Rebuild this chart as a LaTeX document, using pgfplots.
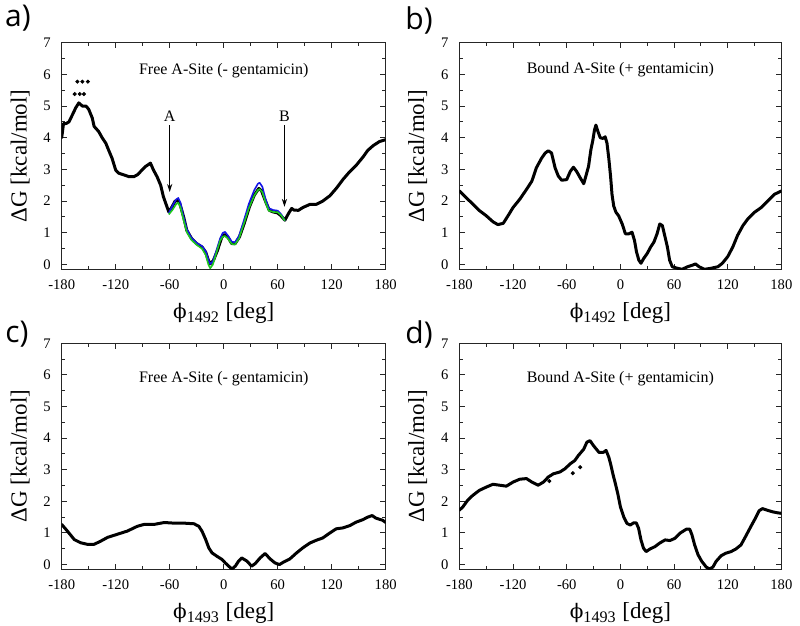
\documentclass[border=0pt]{standalone}
\usepackage{fontspec}
\setmainfont{Liberation Serif}
\newfontfamily\panelfont{Open Sans}
\newfontfamily\phifont{DejaVu Serif}
\newcommand{\myphi}{{\phifont\fontsize{10}{12}\selectfont ϕ}}
\usepackage{pgfplots}
\pgfplotsset{compat=1.18}
\usetikzlibrary{arrows.meta}
\definecolor{cblue}{RGB}{20,20,230}
\definecolor{cgreen}{RGB}{30,200,30}
\pgfplotsset{
 panel/.style={
  scale only axis, anchor=south west,
  xmin=-180,xmax=180,ymin=-0.15,ymax=7,
  xtick={-180,-120,-60,0,60,120,180},
  ytick={0,1,2,3,4,5,6,7},
  minor x tick num=1, minor y tick num=1,
  tick align=inside, major tick length=2.6pt, minor tick length=1.6pt,
  axis line style={line width=0.6pt,black!85},
  every tick/.append style={black!85,line width=0.5pt},
  tick label style={font=\fontsize{7.3}{8}\selectfont},
  /pgf/number format/assume math mode=true,
  /pgf/number format/1000 sep={},
  xticklabel style={yshift=-1.5pt},
  yticklabel style={xshift=-2pt},
  ylabel={ΔG [kcal/mol]},
  label style={font=\fontsize{11.5}{13}\selectfont},
 },
 curve/.style={black, line width=1.5pt, mark=none, line join=round, line cap=round},
 dots/.style={black, only marks, mark=*, mark size=0.8pt},
}
\begin{document}
\begin{tikzpicture}
\path[use as bounding box] (0,0) rectangle (400pt,313pt);
\node[font=\panelfont\fontsize{15}{16}\selectfont] at (9pt,304pt) {a)};
\node[font=\panelfont\fontsize{15}{16}\selectfont] at (209.5pt,303pt) {b)};
\node[font=\panelfont\fontsize{15}{16}\selectfont] at (8.5pt,146pt) {c)};
\node[font=\panelfont\fontsize{15}{16}\selectfont] at (209.5pt,146pt) {d)};

% ---------- a ----------
\begin{axis}[panel, at={(30.85pt,178.35pt)}, width=162pt, height=113.3pt,
  xlabel={\myphi\textsubscript{1492} [deg]}]
\addplot[curve] coordinates {
(-180,4.0) (-178,4.45) (-175,4.45) (-172,4.5) (-168,4.73) (-164.5,4.94) (-161,5.1)
(-157,5.0) (-153,5.0) (-150,4.9) (-146,4.62) (-144,4.36) (-139,4.2) (-135,4.0)
(-131,3.83) (-128,3.62) (-124,3.35) (-120,2.98) (-116.5,2.88) (-111,2.83) (-105,2.77)
(-100,2.77) (-96,2.83) (-92.5,2.93) (-87,3.09) (-81.4,3.2) (-78,2.98) (-74,2.77)
(-70,2.5) (-67,2.14) (-63,1.82) (-61,1.66) (-57.4,1.82) (-54,2.0) (-51,2.02)
(-48.5,1.9) (-44.5,1.5) (-41,1.08) (-35.5,0.81) (-30,0.66) (-24,0.55) (-20,0.39)
(-17,0.13) (-15,0.02) (-11.4,0.13) (-7,0.44) (-2,0.87) (1,0.95) (4.6,0.87)
(9,0.66) (12.7,0.66) (17.5,0.87) (22.7,1.29) (28.6,1.82) (34,2.19) (39,2.4)
(42,2.33) (46,2.03) (50.7,1.71) (55,1.66) (59.6,1.63) (63,1.56) (68,1.4)
(72,1.61) (75.5,1.77) (78,1.72) (83,1.71) (88,1.8) (96,1.9) (103,1.9) (110,2.0)
(118,2.17) (125,2.4) (133,2.7) (140,2.93) (147.5,3.14) (155,3.4) (160,3.6)
(166,3.75) (173,3.88) (180,3.94)
};
\addplot[dots] coordinates {
(-165.6,5.38) (-160,5.38) (-155.3,5.38) (-162.6,5.77) (-157,5.77) (-150.9,5.77)
};
\addplot[cblue, line width=0.8pt, line join=round] coordinates {
(-61,1.62) (-57,1.85) (-53,2.05) (-50.5,2.1) (-48,1.95) (-45,1.55) (-41,1.12)
(-36,0.85) (-30,0.68) (-24,0.58) (-20,0.42) (-17,0.15) (-15,0.02) (-12,0.1)
(-8,0.45) (-4,0.82) (-1,1.0) (1.5,1.03) (4.5,0.92) (9,0.72) (12.5,0.7) (17,0.9)
(22,1.35) (28,1.92) (34,2.35) (38,2.55) (40,2.58) (43,2.45) (46,2.12) (50,1.78)
(55,1.72) (60,1.7) (64,1.58) (68,1.38)
};
\addplot[cgreen, line width=0.8pt, line join=round] coordinates {
(-61,1.58) (-57,1.72) (-53,1.9) (-50.5,1.95) (-48,1.8) (-45,1.45) (-41,1.02)
(-36,0.78) (-30,0.62) (-24,0.5) (-20,0.3) (-17,0.0) (-15,-0.12) (-12,0.0)
(-8,0.38) (-4,0.75) (-1,0.88) (1.5,0.9) (4.5,0.82) (9,0.65) (12.5,0.63) (17,0.82)
(22,1.25) (28,1.78) (34,2.18) (38,2.35) (40,2.38) (43,2.28) (46,2.0) (50,1.7)
(55,1.66) (60,1.65) (64,1.55) (68,1.38)
};
\node[font=\fontsize{8}{9}\selectfont] at (rel axis cs:0.5,0.876) {Free A-Site (- gentamicin)};
\node[font=\fontsize{8}{9}\selectfont] at (axis cs:-60,4.68) {A};
\node[font=\fontsize{8}{9}\selectfont] at (axis cs:67.5,4.68) {B};
\draw[-{Stealth[length=4pt,width=2.6pt]}, line width=0.5pt] (axis cs:-60,4.40) -- (axis cs:-60,2.29);
\draw[-{Stealth[length=4pt,width=2.6pt]}, line width=0.5pt] (axis cs:67.5,4.40) -- (axis cs:67.5,1.82);
\end{axis}

% ---------- b ----------
\begin{axis}[panel, at={(229.7pt,178.35pt)}, width=161pt, height=113.3pt,
  xlabel={\myphi\textsubscript{1492} [deg]}]
\addplot[curve] coordinates {
(-180,2.32) (-172.5,2.11) (-165,1.91) (-157.5,1.70) (-150,1.54) (-142.5,1.35)
(-137,1.26) (-131,1.30) (-125.6,1.54) (-120,1.80) (-112.5,2.06) (-105,2.37)
(-99,2.63) (-94,3.05) (-88,3.36) (-84,3.52) (-80.6,3.59) (-77,3.52) (-73,3.05)
(-69.4,2.79) (-65.6,2.66) (-60,2.68) (-56,2.94) (-52.5,3.07) (-49,2.94) (-45,2.74)
(-41,2.55) (-38.6,2.79) (-35.6,3.10) (-33,3.62) (-30.75,3.93) (-29,4.24)
(-27.4,4.40) (-25,4.19) (-22.5,4.00) (-19.5,3.98) (-17,4.03) (-15,3.83) (-13,3.36)
(-11,2.79) (-9.4,2.22) (-7.5,1.85) (-5,1.65) (-2,1.54) (2,1.28) (5.6,0.97)
(9.4,0.97) (13,1.02) (15.75,0.76) (18,0.40) (20.6,0.14) (23,0.04) (26,0.19)
(30,0.35) (34,0.56) (37.5,0.71) (41,0.97) (44,1.28) (46.9,1.23) (49.5,0.92)
(52.5,0.56) (55,0.14) (58,-0.07) (64,-0.12) (69,-0.15) (75,-0.07) (80.6,-0.02)
(84,0.02) (88,-0.07) (94,-0.15) (101,-0.12) (109,-0.07) (114,0.04) (120,0.25)
(125.6,0.55) (131,0.92) (137,1.23) (142.5,1.44) (150,1.65) (157.5,1.80)
(165,2.01) (172.5,2.22) (180,2.32)
};
\node[font=\fontsize{8}{9}\selectfont] at (rel axis cs:0.5,0.879) {Bound A-Site (+ gentamicin)};
\end{axis}

% ---------- c ----------
\begin{axis}[panel, at={(30.85pt,28.35pt)}, width=162pt, height=113pt,
  xlabel={\myphi\textsubscript{1493} [deg]}]
\addplot[curve] coordinates {
(-180,1.27) (-173.7,1.06) (-166,0.79) (-159,0.69) (-151.5,0.64) (-144,0.64)
(-136.7,0.74) (-129,0.86) (-118,0.96) (-107,1.06) (-96,1.21) (-88.5,1.27)
(-77.4,1.27) (-66,1.33) (-55,1.31) (-44,1.31) (-33,1.29) (-27.6,1.21) (-24,1.05)
(-20,0.79) (-16.6,0.53) (-13,0.37) (-7.4,0.26) (-1.8,0.16) (1.8,0.05) (5.5,-0.05)
(9.2,-0.14) (12.9,-0.05) (16.6,0.11) (20,0.21) (25.8,0.11) (31,-0.05) (35,0.03)
(40.5,0.21) (46,0.35) (51.5,0.18) (57,0.05) (62,0.0) (66,0.07) (73.6,0.18)
(81,0.37) (88,0.53) (95.7,0.68) (103,0.77) (110,0.84) (118,1.0) (125,1.13)
(132.5,1.16) (140,1.23) (147,1.34) (154.6,1.42) (160,1.50) (165,1.55) (169,1.47)
(176.7,1.40) (180,1.33)
};
\node[font=\fontsize{8}{9}\selectfont] at (rel axis cs:0.5,0.842) {Free A-Site (- gentamicin)};
\end{axis}

% ---------- d ----------
\begin{axis}[panel, at={(229.7pt,28.35pt)}, width=161pt, height=113pt,
  xlabel={\myphi\textsubscript{1493} [deg]}]
\addplot[curve] coordinates {
(-180,1.72) (-176,1.83) (-170.6,2.04) (-165,2.19) (-157.5,2.35) (-150,2.45)
(-142.5,2.54) (-135,2.51) (-127.5,2.48) (-120,2.61) (-112.5,2.70) (-105,2.72)
(-99,2.61) (-92,2.51) (-86,2.61) (-80.6,2.77) (-75,2.87) (-67.5,2.93) (-62,3.03)
(-56,3.19) (-51,3.29) (-47,3.45) (-41,3.65) (-37.5,3.87) (-34,3.92) (-30,3.76)
(-24,3.55) (-19,3.55) (-16,3.61) (-13,3.40) (-11,3.19) (-8,2.82) (-5.6,2.56)
(-3,2.25) (0,1.83) (3.7,1.51) (7.4,1.30) (11,1.25) (14.8,1.32) (17.7,1.32)
(20.3,1.15) (23,0.78) (25.8,0.52) (28.8,0.41) (33,0.49) (38.8,0.57) (44,0.68)
(50,0.78) (55.4,0.76) (61,0.83) (66.5,0.99) (73.8,1.12) (77.5,1.12) (80,0.94)
(83,0.62) (86.8,0.31) (91,0.10) (96,-0.08) (99.7,-0.14) (103.4,-0.08) (107,0.10)
(112.6,0.28) (118,0.36) (123.7,0.41) (129,0.49) (134.8,0.62) (140,0.89)
(145.8,1.20) (151.4,1.49) (155,1.70) (158.8,1.77) (164,1.72) (170,1.67)
(175,1.64) (180,1.62)
};
\addplot[dots] coordinates {(-79.5,2.64) (-53.2,2.89) (-45,3.08)};
\node[font=\fontsize{8}{9}\selectfont] at (rel axis cs:0.5,0.845) {Bound A-Site (+ gentamicin)};
\end{axis}
\end{tikzpicture}
\end{document}
